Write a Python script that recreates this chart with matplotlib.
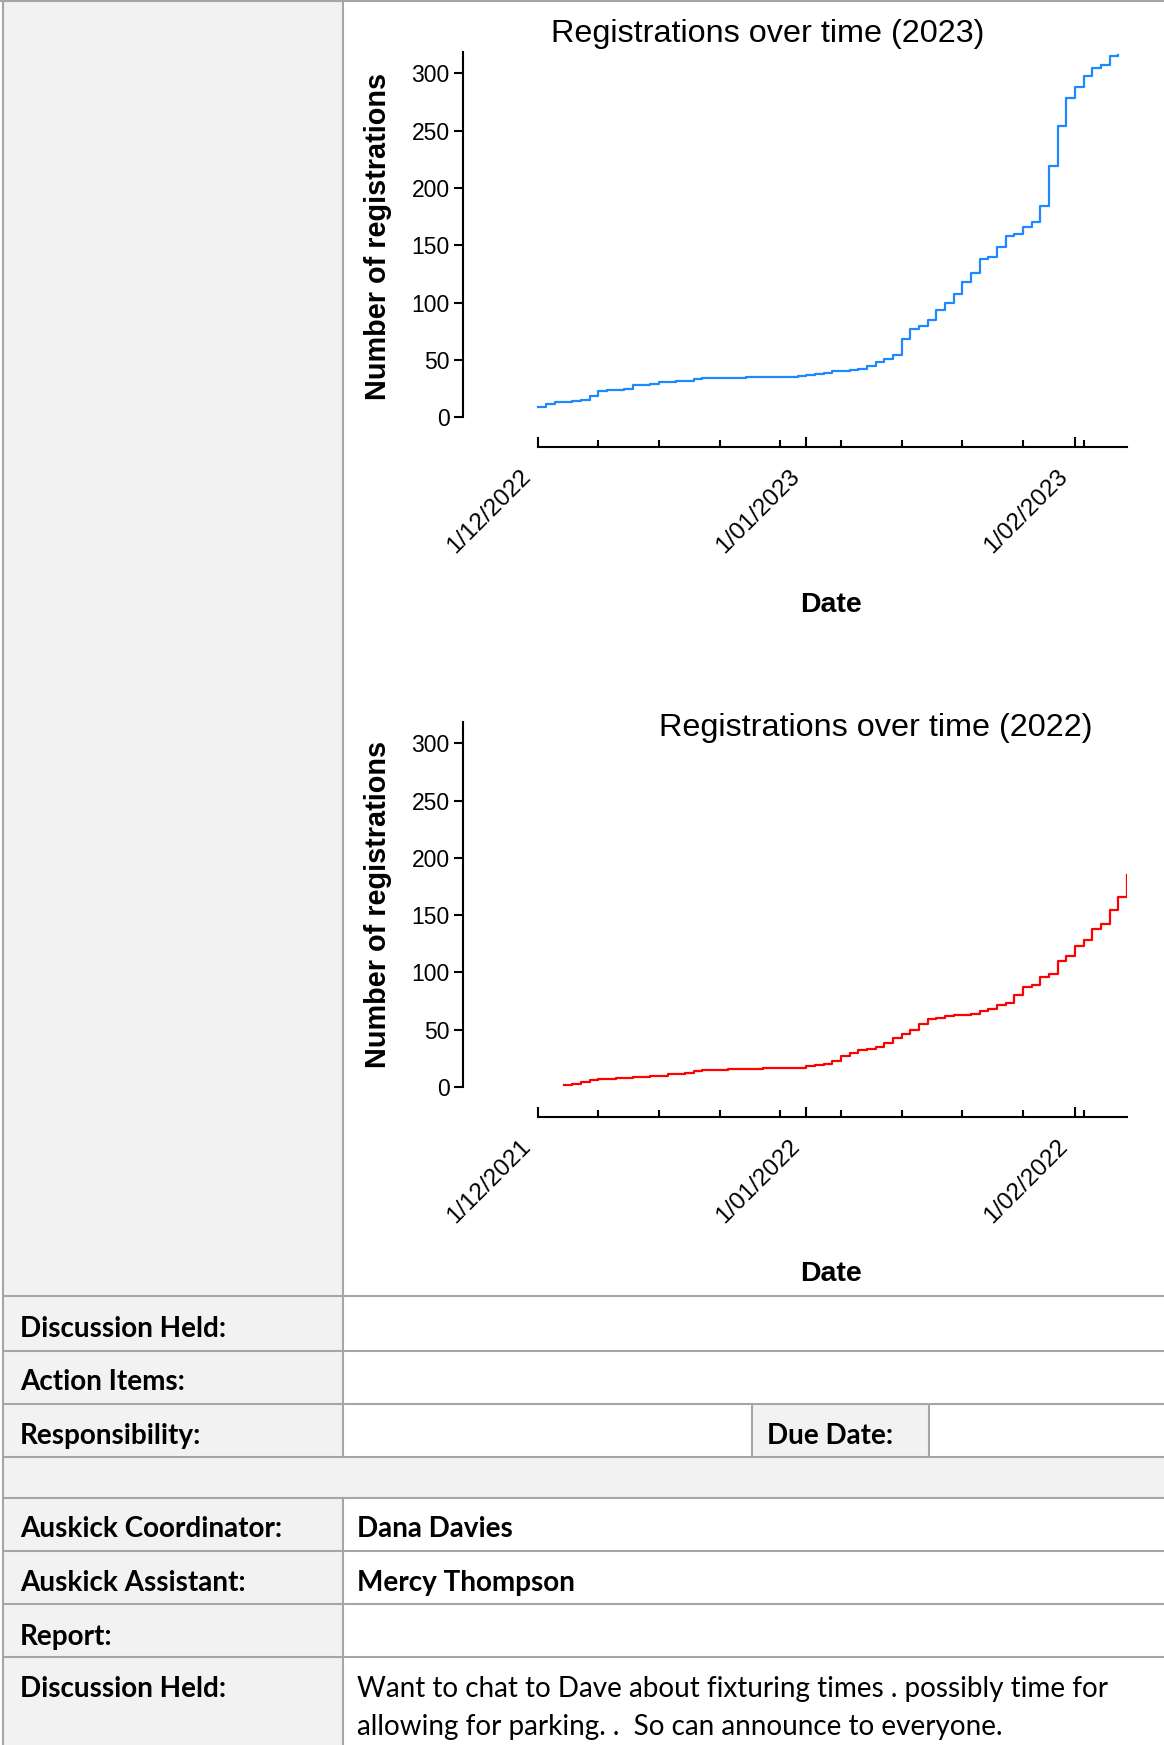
import matplotlib
matplotlib.use('Agg')
import matplotlib.pyplot as plt
import matplotlib.dates as mdates
from matplotlib.patches import Rectangle
from matplotlib.ticker import FixedLocator, NullFormatter
import matplotlib.transforms as mtransforms
import pandas as pd

# ---------------- data ----------------
reg_2023_start = '2022-12-01'
reg_2023_counts = [9, 12, 13, 13, 14, 15, 19, 23, 24, 24,
                   25, 28, 28, 29, 31, 31, 32, 32, 33, 34,
                   34, 34, 34, 34, 35, 35, 35, 35, 35, 35,
                   36, 37, 38, 39, 40, 40, 41, 42, 45, 48,
                   51, 54, 68, 77, 80, 85, 94, 100, 108, 118,
                   126, 138, 140, 149, 158, 160, 166, 170, 184, 219,
                   254, 279, 288, 298, 305, 307, 315, 316]
axis_2023 = ('2022-12-01', '2023-02-07')
month_ticks_2023 = ['2022-12-01', '2023-01-01', '2023-02-01']
month_labels_2023 = ['1/12/2022', '1/01/2023', '1/02/2023']

reg_2022_start = '2021-12-04'
reg_2022_counts = [2, 3, 4, 6, 7, 7, 8, 8, 9, 9,
                   10, 10, 11, 11, 12, 14, 15, 15, 15, 16,
                   16, 16, 16, 17, 17, 17, 17, 17, 18, 19,
                   20, 23, 27, 30, 32, 33, 35, 38, 43, 46,
                   50, 55, 59, 60, 62, 63, 63, 64, 66, 68,
                   72, 73, 80, 87, 89, 96, 99, 110, 114, 123,
                   128, 138, 142, 155, 166, 185]
axis_2022 = ('2021-12-01', '2022-02-07')
month_ticks_2022 = ['2021-12-01', '2022-01-01', '2022-02-01']
month_labels_2022 = ['1/12/2021', '1/01/2022', '1/02/2022']

y_ticks = [0, 50, 100, 150, 200, 250, 300]
y_tick_labels = ['0', '50', '100', '150', '200', '250', '300']

table_labels = ['Discussion Held:', 'Action Items:', 'Responsibility:', '',
                'Auskick Coordinator:', 'Auskick Assistant:', 'Report:', 'Discussion Held:']
due_label = 'Due Date:'
coordinator = 'Dana Davies'
assistant = 'Mercy Thompson'
discussion_lines = ['Want to chat to Dave about fixturing times . possibly time for',
                    'allowing for parking. .  So can announce to everyone.']

# ---------------- figure ----------------
W, H = 1164, 1745
fig = plt.figure(figsize=(W / 100, H / 100), dpi=100)
fig.patch.set_facecolor('white')
renderer = fig.canvas.get_renderer()

GREY = '#F2F2F2'
BORDER = '#A6A6A6'
CHART_FONT = 'Liberation Sans'
TABLE_FONT = 'Lato'

bg = fig.add_axes([0, 0, 1, 1], zorder=0)
bg.set_xlim(0, W)
bg.set_ylim(H, 0)
bg.axis('off')

COL = 343
row_lines = [1296, 1351, 1404, 1457, 1498, 1551, 1604, 1657]

# grey fills
bg.add_patch(Rectangle((3, 0), COL - 3, H, color=GREY, lw=0))
bg.add_patch(Rectangle((3, 1457), W, 1498 - 1457, color=GREY, lw=0))
bg.add_patch(Rectangle((752, 1404), 929 - 752, 1457 - 1404, color=GREY, lw=0))

lw_b = 1.5
bg.plot([0, W], [1, 1], color=BORDER, lw=lw_b, solid_capstyle='butt')
for y in row_lines:
    bg.plot([3, W], [y, y], color=BORDER, lw=lw_b, solid_capstyle='butt')
bg.plot([3, 3], [0, H], color=BORDER, lw=lw_b, solid_capstyle='butt')
bg.plot([COL, COL], [0, 1457], color=BORDER, lw=lw_b, solid_capstyle='butt')
bg.plot([COL, COL], [1498, H], color=BORDER, lw=lw_b, solid_capstyle='butt')
for x in (752, 929):
    bg.plot([x, x], [1404, 1457], color=BORDER, lw=lw_b, solid_capstyle='butt')


def fit(s, target, weight):
    t = fig.text(0, 0, s, fontsize=20, family=TABLE_FONT, weight=weight)
    w = t.get_window_extent(renderer=renderer).width
    t.remove()
    return 20 * target / w


lab_fs = fit('Discussion Held:', 206, 'bold')
body_fs = fit(discussion_lines[0], 751, 'normal')


def ptext(x, y, s, **kw):
    return fig.text(x / W, 1 - y / H, s, **kw)


DY = 3
label_y = [1326, 1379, 1433, None, 1526, 1580, 1634, 1686]
for s, y in zip(table_labels, label_y):
    if s:
        ptext(20, y + DY, s, ha='left', va='center', family=TABLE_FONT,
              weight='bold', fontsize=lab_fs)
ptext(767, 1433 + DY, due_label, ha='left', va='center', family=TABLE_FONT,
      weight='bold', fontsize=lab_fs)
ptext(357, 1526 + DY, coordinator, ha='left', va='center', family=TABLE_FONT,
      weight='bold', fontsize=lab_fs)
ptext(357, 1580 + DY, assistant, ha='left', va='center', family=TABLE_FONT,
      weight='bold', fontsize=lab_fs)
for s, y in zip(discussion_lines, [1686, 1724]):
    ptext(357, y + DY, s, ha='left', va='center', family=TABLE_FONT,
          weight='normal', fontsize=body_fs)


# ---------------- charts ----------------
def chart(top_px, axis_px, start, counts, axis_rng, mticks, mlabels, color,
          title, title_xy, ylab_y, xlab_y):
    left, right = 463, 1127
    ax = fig.add_axes([left / W, 1 - axis_px / H, (right - left) / W,
                       (axis_px - top_px) / H], zorder=2)
    ax.patch.set_alpha(0)
    dates = pd.date_range(start, periods=len(counts), freq='D')
    ax.plot(dates, counts, drawstyle='steps-post', color=color, lw=1.6)

    a0 = pd.Timestamp(axis_rng[0])
    a1 = pd.Timestamp(axis_rng[1])
    px_per_day = (right - 537.5) / ((a1 - a0).days)
    x0 = a0 - pd.Timedelta(days=(537.5 - left) / px_per_day)
    ax.set_xlim(mdates.date2num(x0), mdates.date2num(a1))
    ax.set_ylim(-26.2, 319)

    for sp in ('top', 'right'):
        ax.spines[sp].set_visible(False)
    ax.spines['left'].set_bounds(0, 319)
    ax.spines['bottom'].set_bounds(mdates.date2num(a0), mdates.date2num(a1))
    for sp in ('left', 'bottom'):
        ax.spines[sp].set_linewidth(1.5)

    ax.yaxis.set_major_locator(FixedLocator(y_ticks))
    ax.set_yticklabels(y_tick_labels, fontsize=16.5, family=CHART_FONT)
    ax.tick_params(axis='y', direction='out', length=6.5, width=1.5, pad=3)

    mt = [mdates.date2num(pd.Timestamp(d)) for d in mticks]
    weekly = [mdates.date2num(d) for d in pd.date_range(a0, a1, freq='7D')]
    ax.xaxis.set_major_locator(FixedLocator(mt))
    ax.xaxis.set_minor_locator(FixedLocator(weekly))
    ax.xaxis.set_minor_formatter(NullFormatter())
    ax.set_xticklabels(mlabels, fontsize=17.5, family=CHART_FONT)
    ax.tick_params(axis='x', which='major', direction='in', length=7,
                   width=1.5, pad=13.3)
    ax.tick_params(axis='x', which='minor', direction='in', length=5,
                   width=1.5)
    off = mtransforms.ScaledTranslation(-18 / 100, 0, fig.dpi_scale_trans)
    for lab in ax.get_xticklabels():
        lab.set_rotation(45)
        lab.set_rotation_mode('anchor')
        lab.set_ha('right')
        lab.set_va('top')
        lab.set_transform(lab.get_transform() + off)

    ptext(title_xy[0], title_xy[1], title, ha='center', va='center',
          family=CHART_FONT, fontsize=23.3)
    ptext(378, ylab_y, 'Number of registrations', ha='center', va='center',
          rotation=90, family=CHART_FONT, weight='bold', fontsize=20.8)
    ptext(831, xlab_y, 'Date', ha='center', va='center',
          family=CHART_FONT, weight='bold', fontsize=20.5)
    return ax


chart(51.7, 447.3, reg_2023_start, reg_2023_counts, axis_2023,
      month_ticks_2023, month_labels_2023, '#1E88FF',
      'Registrations over time (2023)', (768, 34), 236, 605)
chart(721.7, 1117, reg_2022_start, reg_2022_counts, axis_2022,
      month_ticks_2022, month_labels_2022, '#FF0000',
      'Registrations over time (2022)', (876, 728), 905, 1274)

fig.savefig('out.png', dpi=100, facecolor='white')
